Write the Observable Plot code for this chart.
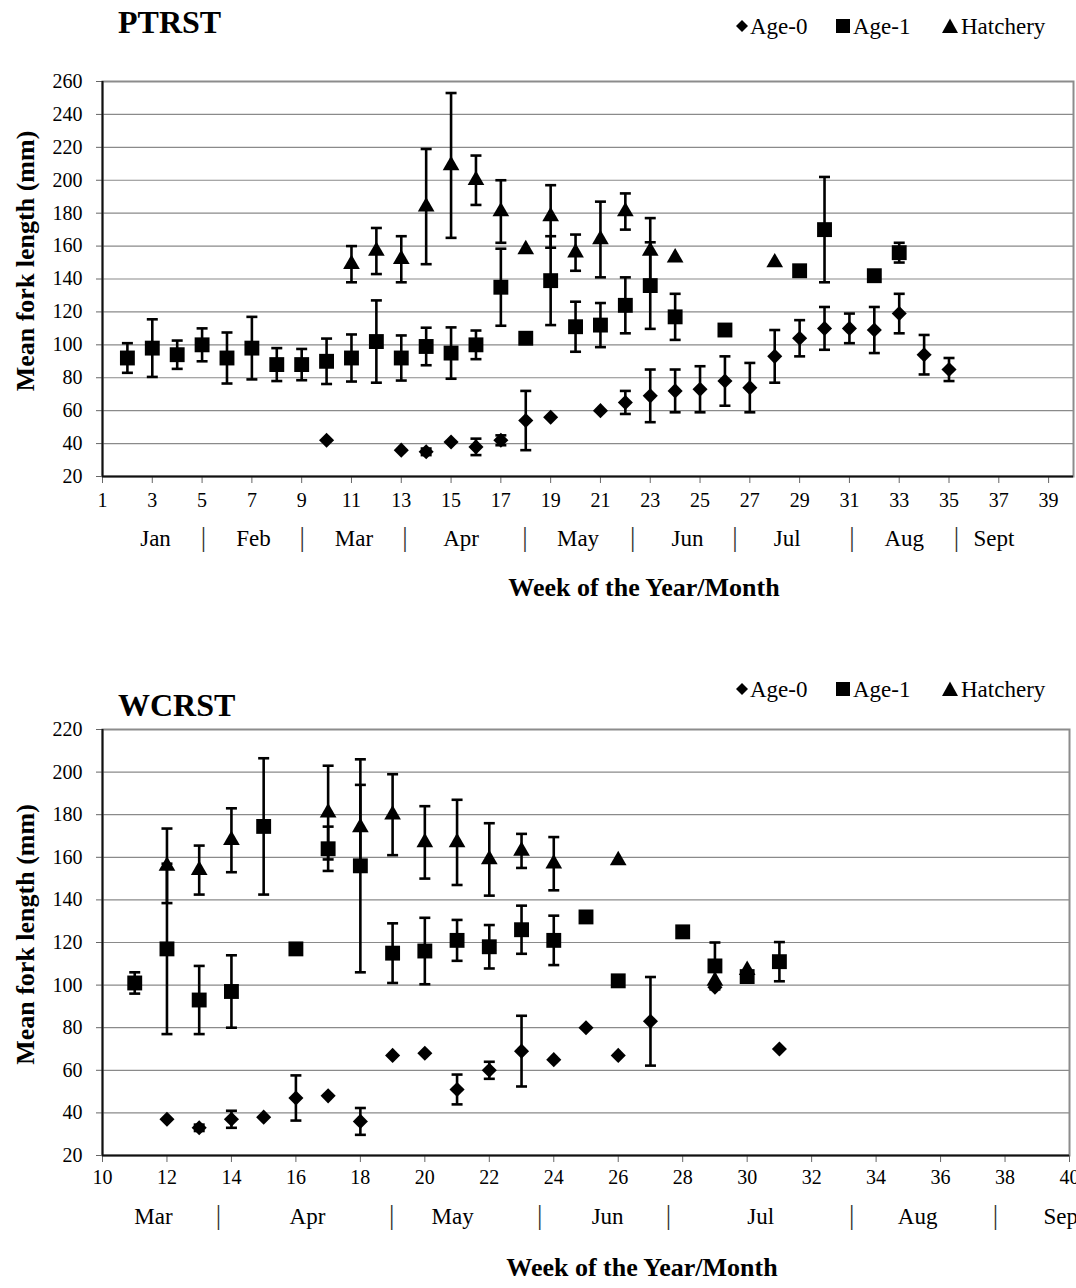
<!DOCTYPE html>
<html><head><meta charset="utf-8">
<script src="https://cdn.jsdelivr.net/npm/d3@7"></script>
<script src="https://cdn.jsdelivr.net/npm/@observablehq/plot@0.6"></script>
<style>
html,body{margin:0;padding:0;background:#fff;}
#wrap{position:relative;width:1076px;height:1288px;overflow:hidden;font-family:"Liberation Serif","Times New Roman",serif;color:#000;background:#fff;}
.abs{position:absolute;white-space:nowrap;line-height:1;}
.title{font-weight:bold;font-size:32px;}
.leg{font-size:23px;}
.chart{position:absolute;left:0;}
</style></head><body><div id="wrap"></div>
<script>
// ---------- PTRST data ----------
const ptrAge0Weeks = [10,13,14,15,16,17,18,19,21,22,23,24,25,26,27,28,29,30,31,32,33,34,35];
const ptrAge0Mean  = [42,36,35,41,38,42,54,56,60,65,69,72,73,78,74,93,104,110,110,109,119,94,85];
const ptrAge0Err   = [0,0,2,0,5,3,18,0,0,7,16,13,14,15,15,16,11,13,9,14,12,12,7];

const ptrAge1Weeks = [2,3,4,5,6,7,8,9,10,11,12,13,14,15,16,17,18,19,20,21,22,23,24,26,29,30,32,33];
const ptrAge1Mean  = [92,98,94,100,92,98,88,88,90,92,102,92,99,95,100,135,104,139,111,112,124,136,117,109,145,170,142,156];
const ptrAge1Err   = [9,17.5,8.6,10,15.5,19,10,9.5,13.8,14.3,25,13.7,11.4,15.6,8.7,23.4,0,27,15.2,13.4,17,26.3,14,0,0,32,0,6];

const ptrHatchWeeks = [11,12,13,14,15,16,17,18,19,20,21,22,23,24,28];
const ptrHatchMean  = [149,157,152,184,209,200,181,158,178,156,164,181,157,153,150];
const ptrHatchErr   = [11,14,14,35,44,15,19,0,19,11,23,11,20,0,0];

const ptrXTicks = [1,3,5,7,9,11,13,15,17,19,21,23,25,27,29,31,33,35,37,39];
const ptrMonthLabels = ["Jan","|","Feb","|","Mar","|","Apr","|","May","|","Jun","|","Jul","|","Aug","|","Sept"];
const ptrMonthPos    = [3.13,5.05,7.06,9.02,11.1,13.15,15.4,17.97,20.1,22.3,24.5,26.4,28.5,31.1,33.2,35.3,36.8];

// ---------- WCRST data ----------
const wcrAge0Weeks = [12,13,14,15,16,17,18,19,20,21,22,23,24,25,26,27,29,31];
const wcrAge0Mean  = [37,33,37,38,47,48,36,67,68,51,60,69,65,80,67,83,99,70];
const wcrAge0Err   = [0,1.5,4,0,10.6,0,6.3,0,0,7,4,16.6,0,0,0,20.8,0,0];

const wcrAge1Weeks = [11,12,13,14,15,16,17,18,19,20,21,22,23,24,25,26,28,29,30,31];
const wcrAge1Mean  = [101,117,93,97,174.5,117,164,156,115,116,121,118,126,121,132,102,125,109,104,111];
const wcrAge1Err   = [5,40,16,17,32,0,10.4,50,14,15.6,9.6,10.2,11.3,11.6,0,0,0,11,0,9.2];

const wcrHatchWeeks = [12,13,14,17,18,19,20,21,22,23,24,26,29,30];
const wcrHatchMean  = [156,154,168,181,174,180,167,167,159,163,157,158.5,102,107];
const wcrHatchErr   = [17.5,11.5,15,22,20,19,17,20,17,8,12.5,0,0,0];

const wcrXTicks = [10,12,14,16,18,20,22,24,26,28,30,32,34,36,38,40];
const wcrMonthLabels = ["Mar","|","Apr","|","May","|","Jun","|","Jul","|","Aug","|","Sept"];
const wcrMonthPos    = [11.58,13.6,16.36,18.97,20.86,23.56,25.67,27.56,30.42,33.24,35.29,37.7,39.83];

const seriesNames = ["Age-0","Age-1","Hatchery"];
const yLabel = "Mean fork length (mm)";
const xLabel = "Week of the Year/Month";

// ---------- helpers ----------
function rows(weeks, means, errs) {
  return weeks.map((w, i) => ({week: w, mean: means[i], err: errs[i]}));
}
const capSymbol = {draw(ctx) { ctx.moveTo(-5.5, 0); ctx.lineTo(5.5, 0); }};

function seriesMarks(data, symbol, r) {
  const e = data.filter(d => d.err > 0);
  return [
    Plot.ruleX(e, {x: "week", y1: d => d.mean - d.err, y2: d => d.mean + d.err, stroke: "#000", strokeWidth: 2.6}),
    Plot.dot(e, {x: "week", y: d => d.mean + d.err, symbol: capSymbol, r: 5, fill: "none", stroke: "#000", strokeWidth: 2.6}),
    Plot.dot(e, {x: "week", y: d => d.mean - d.err, symbol: capSymbol, r: 5, fill: "none", stroke: "#000", strokeWidth: 2.6}),
    Plot.dot(data, {x: "week", y: "mean", symbol, r, fill: "#000", stroke: "none"})
  ];
}

function chart(cfg) {
  const yTicks = d3.range(cfg.yDomain[0], cfg.yDomain[1] + 1, 20);
  const months = cfg.monthLabels.map((l, i) => ({label: l, pos: cfg.monthPos[i]}));
  return Plot.plot({
    width: 1076, height: cfg.height,
    marginLeft: 102, marginRight: cfg.marginRight, marginTop: cfg.marginTop, marginBottom: cfg.marginBottom,
    style: {fontFamily: "Liberation Serif, Times New Roman, serif", fontSize: "19px", color: "#000", background: "#fff"},
    x: {domain: cfg.xDomain},
    y: {domain: cfg.yDomain},
    marks: [
      Plot.gridY(yTicks, {stroke: "#8a8a8a", strokeOpacity: 1, strokeWidth: 1.2}),
      Plot.frame({stroke: "#8c8c8c", strokeWidth: 2}),
      Plot.axisY(yTicks, {tickSize: 6, tickPadding: 14, fontSize: 20, stroke: "#666", label: null}),
      Plot.axisX(cfg.xTicks, {tickSize: 7, tickPadding: cfg.tickPad, fontSize: 20, stroke: "#666", label: null, tickFormat: d => String(d)}),
      Plot.ruleY([cfg.yDomain[0]], {stroke: "#111", strokeWidth: 2}),
      Plot.ruleX([cfg.xDomain[0]], {stroke: "#111", strokeWidth: 2}),
      ...seriesMarks(cfg.age0, "diamond2", 6.8),
      ...seriesMarks(cfg.age1, "square", 8.4),
      ...seriesMarks(cfg.hatch, "triangle", 6.2),
      Plot.text(months.filter(d => d.label !== "|"), {x: "pos", text: "label", frameAnchor: "bottom", dy: cfg.monthDy, fontSize: 23}),
      Plot.text(months.filter(d => d.label === "|"), {x: "pos", text: "label", frameAnchor: "bottom", dy: cfg.monthDy, fontSize: 27, fill: "#333"}),
      Plot.text([xLabel], {text: d => d, frameAnchor: "bottom", dx: 56, dy: cfg.xLabelDy, fontSize: 26, fontWeight: "bold"}),
      Plot.text([yLabel], {text: d => d, frameAnchor: "left", textAnchor: "middle", rotate: -90, dx: -77, dy: cfg.yLabelDy, fontSize: 26, fontWeight: "bold"})
    ]
  });
}

// ---------- layout ----------
const wrap = document.getElementById("wrap");
function addDiv(cls, text, left, top, extra) {
  const d = document.createElement("div");
  d.className = "abs " + cls;
  d.textContent = text;
  d.style.left = left + "px";
  d.style.top = top + "px";
  if (extra) Object.assign(d.style, extra);
  wrap.appendChild(d);
  return d;
}
function legendSymbol(kind, left, top) {
  const ns = "http://www.w3.org/2000/svg";
  const s = document.createElementNS(ns, "svg");
  s.setAttribute("width", 18); s.setAttribute("height", 18);
  s.style.position = "absolute"; s.style.left = left + "px"; s.style.top = top + "px";
  const p = document.createElementNS(ns, "path");
  const d = kind === "Age-0" ? "M9,3L15,9L9,15L3,9Z" : kind === "Age-1" ? "M2,2H16V16H2Z" : "M9,1.5L17,16H1Z";
  p.setAttribute("d", d); p.setAttribute("fill", "#000");
  s.appendChild(p);
  wrap.appendChild(s);
}
function legend(top) {
  const symX = [733, 834, 941];
  const txtX = [750, 853, 961];
  seriesNames.forEach((n, i) => {
    legendSymbol(n, symX[i], top + 2);
    addDiv("leg", n, txtX[i], top);
  });
}

const c1 = chart({
  height: 620, marginTop: 81, marginBottom: 144, marginRight: 3,
  xDomain: [1, 40], yDomain: [20, 260], xTicks: ptrXTicks, tickPad: 9,
  monthLabels: ptrMonthLabels, monthPos: ptrMonthPos, monthDy: 69, xLabelDy: 119, yLabelDy: -18,
  age0: rows(ptrAge0Weeks, ptrAge0Mean, ptrAge0Err),
  age1: rows(ptrAge1Weeks, ptrAge1Mean, ptrAge1Err),
  hatch: rows(ptrHatchWeeks, ptrHatchMean, ptrHatchErr)
});
c1.classList.add("chart"); c1.style.top = "0px";
wrap.appendChild(c1);

const c2 = chart({
  height: 648, marginTop: 89, marginBottom: 133, marginRight: 7,
  xDomain: [10, 40], yDomain: [20, 220], xTicks: wcrXTicks, tickPad: 7,
  monthLabels: wcrMonthLabels, monthPos: wcrMonthPos, monthDy: 68, xLabelDy: 120, yLabelDy: -8,
  age0: rows(wcrAge0Weeks, wcrAge0Mean, wcrAge0Err),
  age1: rows(wcrAge1Weeks, wcrAge1Mean, wcrAge1Err),
  hatch: rows(wcrHatchWeeks, wcrHatchMean, wcrHatchErr)
});
c2.classList.add("chart"); c2.style.top = "640px";
wrap.appendChild(c2);

addDiv("title", "PTRST", 118, 6);
addDiv("title", "WCRST", 118, 689);
legend(15);
legend(678);
</script></body></html>
